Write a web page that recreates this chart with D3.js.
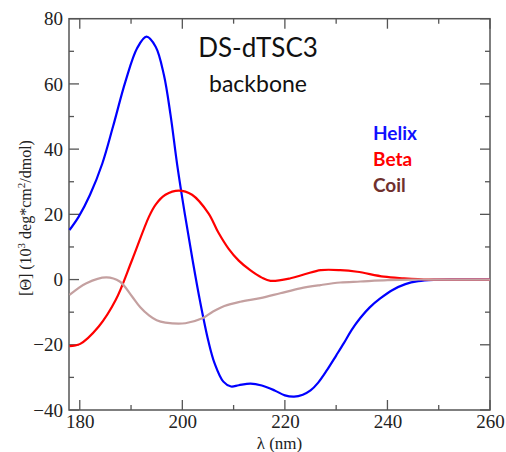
<!DOCTYPE html>
<html><head><meta charset="utf-8">
<script src="https://cdn.jsdelivr.net/npm/d3@7"></script>
<style>body{margin:0;background:#fff}</style>
</head><body>
<svg id="c" width="506" height="452"></svg>
<script>
const helixL = [178,179.8,182,184.4,186.5,188.9,191.2,193,194.8,196.4,197.7,199,200.5,202,203.5,205.1,206.3,208,209.5,211,213.3,215.5,218,220,221.8,223.5,225,226.5,228.2,230,231.5,233,234.7,236.5,238.6,241,243.5,246,249,253,256,260];
const helixV = [15.2,19.3,26,35.6,47,60.7,71,74.5,71.4,62.8,50.5,35.2,20,6,-7,-19,-25.7,-31.3,-32.8,-32.4,-31.9,-32.5,-34,-35.5,-35.9,-35.3,-34,-31.6,-27.8,-23.3,-19.5,-15.5,-11.8,-8.6,-5.8,-3.2,-1.4,-0.5,-0.1,0,0,0];
const betaL = [178,180,183.7,187,190.2,193.5,194.8,196.7,199.3,201.9,205.1,207,209,211,213.3,215.5,217.2,221.1,224,227,230.8,234.1,239.3,243.2,248,252,256,260];
const betaV = [-20.4,-19.8,-14.4,-6.3,6,19.3,23,26,27.3,26,20.3,14.5,9.5,5.8,2.8,0.6,-0.4,0.4,1.7,2.9,2.9,2.4,0.9,0.4,0,0,0,0];
const coilL = [178,181.3,185.2,187.8,190.2,191.8,193.5,195,196.7,200.6,203.9,206,208.2,211.3,215.2,219.1,223,226.9,230.8,234.7,240,245,250,255,260];
const coilV = [-4.7,-1.1,0.7,-0.6,-5.2,-8.5,-11,-12.5,-13.2,-13.4,-11.9,-9.8,-8.1,-6.8,-5.7,-4.2,-2.7,-1.7,-0.9,-0.6,-0.2,0,0,0,0];
const xTicks = [180,200,220,240,260];
const yTicks = [-40,-20,0,20,40,60,80];
const series = [
  {name:"Helix", L:helixL, V:helixV, line:"#0000ff", text:"#1010ff"},
  {name:"Beta", L:betaL, V:betaV, line:"#ff0000", text:"#ff0000"},
  {name:"Coil", L:coilL, V:coilV, line:"#c4a0a0", text:"#70302e"}
];

const svg = d3.select("#c");
const pL=69, pR=490, pT=18.7, pB=410;
const x = d3.scaleLinear().domain([177.9,260]).range([pL,pR]);
const y = d3.scaleLinear().domain([-40,80]).range([pB,pT]);
const axisColor="#555";
const SERIF = "'Liberation Serif', 'DejaVu Serif', serif";

svg.append("rect").attr("x",pL).attr("y",pT).attr("width",pR-pL).attr("height",pB-pT)
  .attr("fill","none").attr("stroke",axisColor).attr("stroke-width",1.5);

const minorX = d3.range(180,261,10), minorY = d3.range(-40,81,10);
const tickG = svg.append("g").attr("stroke",axisColor).attr("stroke-width",1.3);
minorX.forEach(v=>{
  const len = xTicks.includes(v)?10:5;
  tickG.append("line").attr("x1",x(v)).attr("x2",x(v)).attr("y1",pB).attr("y2",pB-len);
  tickG.append("line").attr("x1",x(v)).attr("x2",x(v)).attr("y1",pT).attr("y2",pT+len);
});
minorY.forEach(v=>{
  const len = yTicks.includes(v)?10:5;
  tickG.append("line").attr("y1",y(v)).attr("y2",y(v)).attr("x1",pL).attr("x2",pL+len);
  tickG.append("line").attr("y1",y(v)).attr("y2",y(v)).attr("x1",pR).attr("x2",pR-len);
});

const xa = svg.append("g").attr("transform",`translate(0,${pB})`)
  .call(d3.axisBottom(x).tickValues(xTicks).tickSize(0).tickPadding(5));
xa.select(".domain").remove();
xa.attr("font-family",SERIF).attr("font-size",19);
xa.selectAll("text").style("font-family",SERIF).style("font-size","19px").attr("fill","#222");
const ya = svg.append("g").attr("transform",`translate(${pL},0)`)
  .call(d3.axisLeft(y).tickValues(yTicks).tickSize(0).tickPadding(6));
ya.select(".domain").remove();
ya.attr("font-family",SERIF).attr("font-size",19);
ya.selectAll("text").style("font-family",SERIF).style("font-size","19px").attr("fill","#222");

const line = d3.line().x(d=>x(d[0])).y(d=>y(d[1])).curve(d3.curveCatmullRom.alpha(0.5));
series.forEach(s=>{
  svg.append("path").datum(s.L.map((l,i)=>[l,s.V[i]]))
    .attr("d",line).attr("fill","none").attr("stroke",s.line).attr("stroke-width",2.2);
});

svg.append("text").attr("x",(pL+pR)/2).attr("y",449).attr("text-anchor","middle")
  .style("font-family",SERIF).style("font-size","17px").attr("fill","#222").text("λ (nm)");
const yl = svg.append("text").attr("transform","translate(31,218) rotate(-90)").attr("text-anchor","middle")
  .style("font-family",SERIF).style("font-size","16px").attr("fill","#222");
yl.append("tspan").text("[Θ] (10");
yl.append("tspan").attr("dy",-6).style("font-size","11px").text("3");
yl.append("tspan").attr("dy",6).text(" deg*cm");
yl.append("tspan").attr("dy",-6).style("font-size","11px").text("2");
yl.append("tspan").attr("dy",6).text("/dmol)");

svg.append("text").attr("x",258).attr("y",57).attr("text-anchor","middle")
  .attr("font-family","Lato,'Open Sans',sans-serif").attr("font-size",26).attr("fill","#111").text("DS-dTSC3");
svg.append("text").attr("x",258).attr("y",92).attr("text-anchor","middle")
  .attr("font-family","Lato,'Open Sans',sans-serif").attr("font-size",23).attr("fill","#111").text("backbone");

series.forEach((s,i)=>{
  svg.append("text").attr("x",373).attr("y",139.5+i*26)
    .attr("font-family","Lato,'Open Sans',sans-serif").attr("font-weight","bold").attr("font-size",19)
    .attr("fill",s.text).text(s.name);
});
</script>
</body></html>
